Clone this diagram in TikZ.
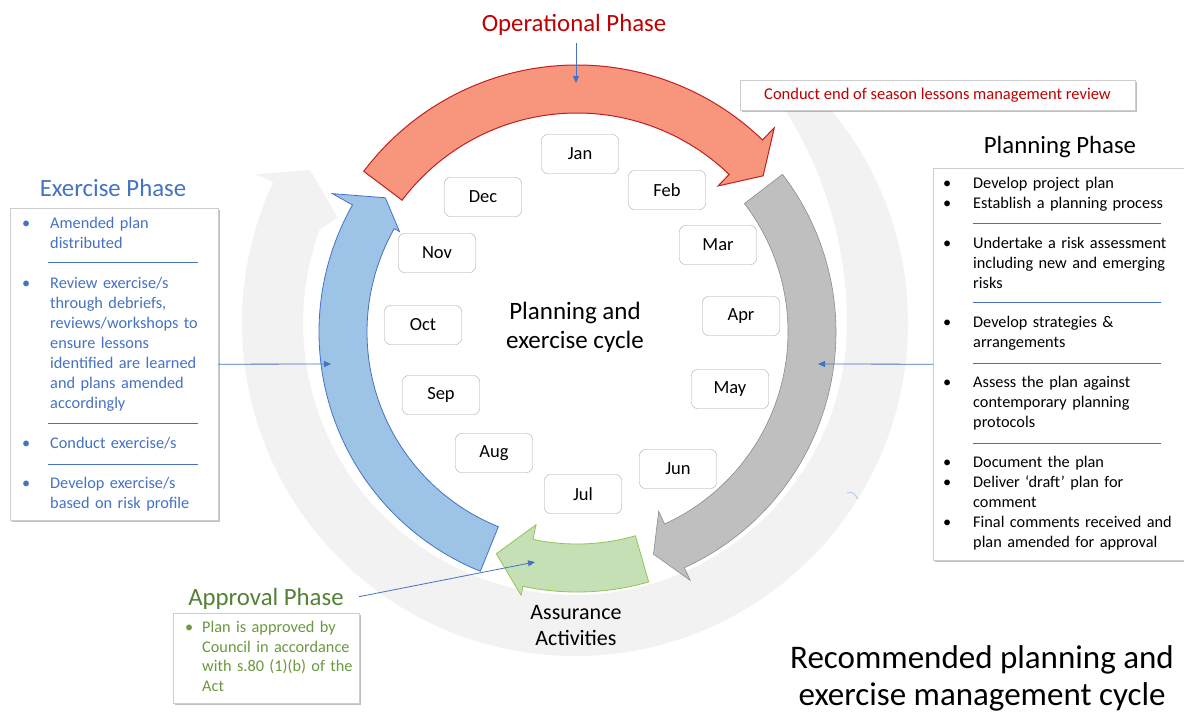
\documentclass[tikz,border=0pt]{standalone}
\usepackage{fontspec}
\setmainfont{Carlito}
\usetikzlibrary{arrows.meta,shadows,positioning}

\definecolor{opred}{RGB}{192,0,0}
\definecolor{redfill}{RGB}{247,150,124}
\definecolor{redline}{RGB}{192,32,32}
\definecolor{bluefill}{RGB}{157,195,230}
\definecolor{exblue}{RGB}{68,114,196}
\definecolor{grayfill}{RGB}{191,191,191}
\definecolor{grayline}{RGB}{140,140,140}
\definecolor{greenfill}{RGB}{197,224,180}
\definecolor{greenline}{RGB}{146,196,86}
\definecolor{apgreen}{RGB}{84,130,53}
\definecolor{aptext}{RGB}{106,153,62}
\definecolor{ringgray}{RGB}{242,242,242}
\definecolor{monthline}{RGB}{166,166,166}
\definecolor{panelline}{RGB}{205,205,205}

% bullet item: indent, text
\newcommand{\itm}[2][28pt]{\makebox[#1][l]{\textbullet}\parbox[t]{250pt}{#2}}
% block arc arrow: style, tail, base, tip, outer r, inner r, outer barb, inner barb
\newcommand{\blockarc}[8]{%
  \draw[#1] (#2:#5) arc[start angle=#2, end angle=#3, radius=#5] -- (#3:#7) -- (#4:{(#5+#6)/2}) -- (#3:#8) -- (#3:#6) arc[start angle=#3, end angle=#2, radius=#6] -- cycle;}

\begin{document}
\begin{tikzpicture}[x=1pt,y=1pt,yscale=-1,
  month/.style={draw=monthline, rounded corners=6pt, fill=white, minimum width=77pt, minimum height=39pt, inner sep=0pt, font=\fontsize{18.5}{22}\selectfont},
  panel/.style={draw=panelline, fill=white, inner sep=0pt, drop shadow={shadow xshift=2pt, shadow yshift=-2pt, fill=black, opacity=0.25}},
  phase/.style={font=\fontsize{24.8}{29}\selectfont},
  bullets/.style={anchor=north west, inner sep=0pt, text width=300pt, align=left, font=\fontsize{16.3}{20}\selectfont},
  conn/.style={draw=exblue, line width=0.8pt, -{Triangle[length=7pt,width=6pt]}},
  sepline/.style={draw=exblue, line width=0.7pt}]
\useasboundingbox (0,0) rectangle (1184,713);
\fill[white] (0,0) rectangle (1184,713);

%Shape: Background Ring
\begin{scope}[shift={(575,323)}]
\fill[ringgray] (-46:333) arc[start angle=-46, end angle=205, radius=333] -- (205:352) -- (210:306) -- (204:260) -- plot[domain=200:-46, samples=80] (\x:{272+28*(max(0,0-(\x))/46)^2}) -- cycle;
\end{scope}

%Shape: Block Arcs
\begin{scope}[shift={(577,332)}]
\blockarc{fill=redfill, draw=redline, line width=1pt}{217}{314}{320}{267}{219}{284}{203}
\blockarc{fill=grayfill, draw=grayline, line width=0.6pt}{-37.5}{65.5}{71}{259}{211}{273}{197}
\blockarc{fill=greenfill, draw=greenline, line width=0.8pt}{74}{102}{110}{260}{212}{269}{197}
\blockarc{fill=bluefill, draw=exblue, line width=0.8pt}{112}{209.5}{215}{258}{210}{281}{204}
\end{scope}

% Month boxes
\node[month] (jan) at (580,154) {Jan};
\node[month] (feb) at (667,190) {Feb};
\node[month] (mar) at (718,245) {Mar};
\node[month] (apr) at (741,316) {Apr};
\node[month] (may) at (730,389) {May};
\node[month] (jun) at (678,469) {Jun};
\node[month] (jul) at (583,494) {Jul};
\node[month] (aug) at (494,453) {Aug};
\node[month] (sep) at (441,395) {Sep};
\node[month] (oct) at (423,325) {Oct};
\node[month] (nov) at (437,253) {Nov};
\node[month] (dec) at (483,197) {Dec};

% Text Node
\node[align=center, font=\fontsize{25}{29}\selectfont] (cycle) at (575,327) {Planning and\\exercise cycle};
\node[align=center, font=\fontsize{22}{26}\selectfont] (assure) at (576,626) {Assurance\\Activities};
\node[align=center, font=\fontsize{33}{37}\selectfont] (maintitle) at (982,678) {Recommended planning and\\exercise management cycle};

% Phase titles
\node[phase, text=opred] (optitle) at (574,25) {Operational Phase};
\node[phase, text=exblue] (extitle) at (113,188) {Exercise Phase};
\node[phase] (plantitle) at (1060,147) {Planning Phase};
\node[phase, text=apgreen] (apptitle) at (266,599) {Approval Phase};

% Panels
\node[panel, minimum width=395pt, minimum height=30pt, font=\fontsize{16.5}{20}\selectfont, text=opred] (lessonbox) at (937.5,95) {Conduct end of season lessons management review};
\node[panel, anchor=north west, minimum width=208pt, minimum height=312pt] (exbox) at (10,208) {};
\node[panel, anchor=north west, minimum width=262pt, minimum height=392pt] (planbox) at (933,168) {};
\node[panel, anchor=north west, minimum width=186pt, minimum height=90pt] (appbox) at (173,613) {};

% Exercise phase items
\node[bullets, text=exblue] (ex1) at (22,217) {\itm{Amended plan\\distributed}};
\node[bullets, text=exblue] (ex2) at (22,277) {\itm{Review exercise/s\\through debriefs,\\reviews/workshops to\\ensure lessons\\identified are learned\\and plans amended\\accordingly}};
\node[bullets, text=exblue] (ex3) at (22,437) {\itm{Conduct exercise/s}};
\node[bullets, text=exblue] (ex4) at (22,477) {\itm{Develop exercise/s\\based on risk profile}};
\draw[sepline] (48,262) -- (198,262);
\draw[sepline] (48,423) -- (198,423);
\draw[sepline] (48,464) -- (198,464);

% Planning phase items
\node[bullets] (plan1) at (943,177) {\itm[30pt]{Develop project plan}};
\node[bullets] (plan2) at (943,197) {\itm[30pt]{Establish a planning process}};
\node[bullets] (plan3) at (943,237) {\itm[30pt]{Undertake a risk assessment\\including new and emerging\\risks}};
\node[bullets] (plan4) at (943,316) {\itm[30pt]{Develop strategies \&\\arrangements}};
\node[bullets] (plan5) at (943,376) {\itm[30pt]{Assess the plan against\\contemporary planning\\protocols}};
\node[bullets] (plan6) at (943,456) {\itm[30pt]{Document the plan}};
\node[bullets] (plan7) at (943,476) {\itm[30pt]{Deliver ‘draft’ plan for\\comment}};
\node[bullets] (plan8) at (943,516) {\itm[30pt]{Final comments received and\\plan amended for approval}};
\draw[sepline] (973,223) -- (1161,223);
\draw[sepline] (973,302) -- (1161,302);
\draw[sepline] (973,363) -- (1161,363);
\draw[sepline] (973,443) -- (1161,443);

% Approval phase item
\node[bullets, text=aptext, font=\fontsize{16.3}{19.7}\selectfont] (app1) at (185,621) {\itm[17pt]{Plan is approved by\\Council in accordance\\with s.80 (1)(b) of the\\Act}};

% Connectors
\coordinate (redhit) at (576,83);
\coordinate (bluehit) at (331,364);
\coordinate (grayhit) at (818,364);
\coordinate (greenhit) at (535,562);
\draw[conn, shorten <=4pt] (optitle.south -| redhit) -- (redhit);
\draw[conn] (exbox.east) -- (bluehit);
\draw[conn] (planbox.west) -- (grayhit);
\draw[conn, shorten <=12pt] (apptitle.east) -- (greenhit);

%Shape: small arc
\draw[exblue!45, line width=0.7pt] (847,493) .. controls (853,492) .. (858,499);
\end{tikzpicture}
\end{document}
